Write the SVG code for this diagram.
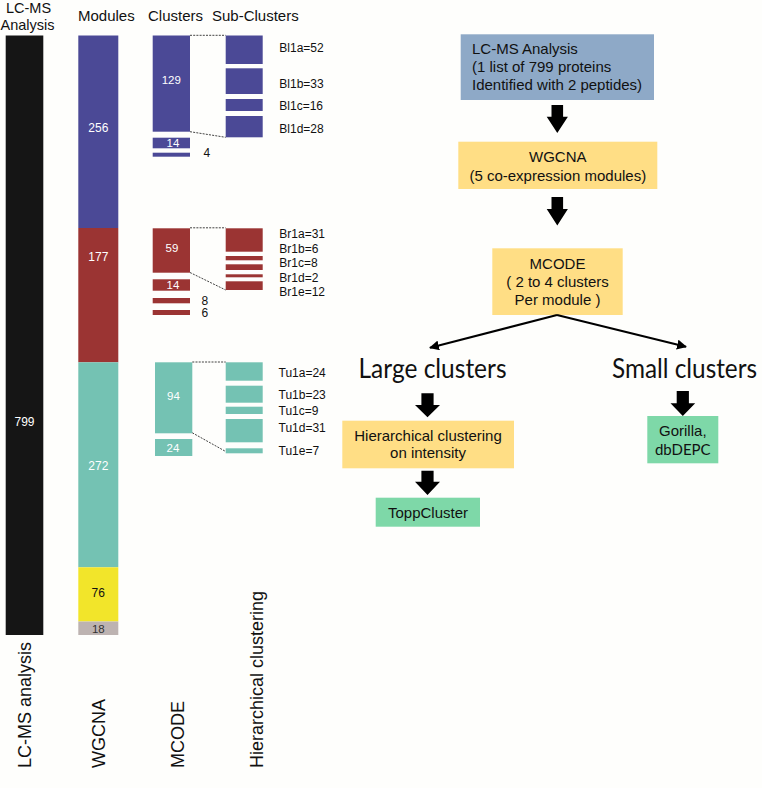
<svg xmlns="http://www.w3.org/2000/svg" width="762" height="788" viewBox="0 0 762 788">
<defs>
<style>
.t{font-family:"Liberation Sans",Arial,sans-serif;fill:#111}
.h{font-size:15px}
.lab{font-size:12px}
.num{font-size:11.5px;fill:#fff;text-anchor:middle}
.mid{text-anchor:middle}
.rot{font-size:18px}
.big{font-family:Lato,"Open Sans",sans-serif;font-size:27px;fill:#111;text-anchor:middle}
.bl{fill:#4B4996}
.rd{fill:#9B3433}
.tl{fill:#74C2B3}
.dash{stroke:#111;stroke-width:0.8;stroke-dasharray:2,1.2;fill:none}
.blk{fill:#000}
.thin{stroke:#000;stroke-width:2;fill:none;marker-end:url(#ah)}
</style>
<marker id="ah" viewBox="0 0 10 10" refX="9" refY="5" markerWidth="5" markerHeight="5" orient="auto" markerUnits="strokeWidth">
<path d="M0,0 L10,5 L0,10 z" fill="#000"/>
</marker>
</defs>
<rect x="0" y="0" width="762" height="788" fill="#FEFEFC"/>

<g id="headers">
<text class="t mid" x="28.5" y="13.2" style="font-size:14.5px">LC-MS</text>
<text class="t mid" x="27.5" y="29.5" style="font-size:14.5px">Analysis</text>
<text class="t h" x="78" y="20.5">Modules</text>
<text class="t h" x="148" y="20.5">Clusters</text>
<text class="t h" x="212" y="20.5">Sub-Clusters</text>
</g>

<g id="lcms-bar">
<rect x="5.7" y="35.5" width="37.6" height="599.5" fill="#151515"/>
<text class="t num" x="24.5" y="426" style="font-size:12px">799</text>
</g>

<g id="modules">
<rect x="78.3" y="35.5" width="40" height="192.5" class="bl"/>
<rect x="78.3" y="228" width="40" height="134.3" class="rd"/>
<rect x="78.3" y="362.3" width="40" height="205" class="tl"/>
<rect x="78.3" y="567.3" width="40" height="54.2" fill="#F2E52A"/>
<rect x="78.3" y="621.5" width="40" height="13.5" fill="#BDB3B1"/>
<text class="t num" x="98.3" y="132" style="font-size:12px">256</text>
<text class="t num" x="98.3" y="261" style="font-size:12px">177</text>
<text class="t num" x="98.3" y="470" style="font-size:12px">272</text>
<text class="t mid" x="98.3" y="597" style="font-size:12px">76</text>
<text class="t mid" x="98.3" y="632.5" style="font-size:11.5px;fill:#333">18</text>
</g>

<g id="clusters-blue">
<rect x="152.7" y="35.5" width="37.3" height="96.2" class="bl"/>
<rect x="152.7" y="137.7" width="37.3" height="10.6" class="bl"/>
<rect x="152.7" y="152.7" width="37.3" height="4" class="bl"/>
<text class="t num" x="171.3" y="84">129</text>
<text class="t num" x="173" y="147.3">14</text>
<text class="t" x="203.5" y="157" style="font-size:12px">4</text>
</g>

<g id="subclusters-blue">
<rect x="225.7" y="35.5" width="37" height="28.5" class="bl"/>
<rect x="225.7" y="68.3" width="37" height="25.7" class="bl"/>
<rect x="225.7" y="99" width="37" height="12" class="bl"/>
<rect x="225.7" y="116" width="37" height="21.3" class="bl"/>
<text class="t lab" x="279.3" y="51.5">Bl1a=52</text>
<text class="t lab" x="279.3" y="87.5">Bl1b=33</text>
<text class="t lab" x="279.3" y="110.3">Bl1c=16</text>
<text class="t lab" x="279.3" y="132.5">Bl1d=28</text>
</g>

<g id="clusters-red">
<rect x="152.7" y="228.3" width="37.3" height="44.4" class="rd"/>
<rect x="152.7" y="279.3" width="37.3" height="11.4" class="rd"/>
<rect x="152.7" y="298" width="37.3" height="5.3" class="rd"/>
<rect x="152.7" y="310" width="37.3" height="5" class="rd"/>
<text class="t num" x="172" y="251.5">59</text>
<text class="t num" x="173" y="289">14</text>
<text class="t" x="201.5" y="304.5" style="font-size:12px">8</text>
<text class="t" x="201.5" y="317" style="font-size:12px">6</text>
</g>

<g id="subclusters-red">
<rect x="225.7" y="228.3" width="37" height="23.4" class="rd"/>
<rect x="225.7" y="256" width="37" height="4.3" class="rd"/>
<rect x="225.7" y="264.3" width="37" height="5.7" class="rd"/>
<rect x="225.7" y="274.3" width="37" height="3" class="rd"/>
<rect x="225.7" y="281.3" width="37" height="8.7" class="rd"/>
<text class="t lab" x="279.3" y="237.5">Br1a=31</text>
<text class="t lab" x="279.3" y="252.5">Br1b=6</text>
<text class="t lab" x="279.3" y="267">Br1c=8</text>
<text class="t lab" x="279.3" y="281.5">Br1d=2</text>
<text class="t lab" x="279.3" y="296">Br1e=12</text>
</g>

<g id="clusters-teal">
<rect x="155" y="362.3" width="37.3" height="71" class="tl"/>
<rect x="155" y="439" width="37.3" height="17" class="tl"/>
<text class="t num" x="173.5" y="400">94</text>
<text class="t num" x="173" y="451.5">24</text>
</g>

<g id="subclusters-teal">
<rect x="225.7" y="362.3" width="37" height="18.4" class="tl"/>
<rect x="225.7" y="385.7" width="37" height="17" class="tl"/>
<rect x="225.7" y="406.7" width="37" height="7.3" class="tl"/>
<rect x="225.7" y="419" width="37" height="23.3" class="tl"/>
<rect x="225.7" y="448.3" width="37" height="5" class="tl"/>
<text class="t lab" x="278.5" y="376.5">Tu1a=24</text>
<text class="t lab" x="278.5" y="398.5">Tu1b=23</text>
<text class="t lab" x="278.5" y="415">Tu1c=9</text>
<text class="t lab" x="278.5" y="432">Tu1d=31</text>
<text class="t lab" x="278.5" y="455">Tu1e=7</text>
</g>

<g id="axis-labels">
<text class="t rot" transform="translate(30.5,768) rotate(-90)">LC-MS analysis</text>
<text class="t rot" transform="translate(105,768) rotate(-90)">WGCNA</text>
<text class="t rot" transform="translate(183.5,768) rotate(-90)">MCODE</text>
<text class="t rot" transform="translate(262.5,768) rotate(-90)">Hierarchical clustering</text>
</g>

<g id="box-lcms">
<rect x="460.7" y="34.3" width="193.3" height="65.7" fill="#8EA9C7"/>
<text class="t h" x="472" y="53.5">LC-MS Analysis</text>
<text class="t h" x="472" y="71.5">(1 list of 799 proteins</text>
<text class="t h" x="472" y="89.5">Identified with 2 peptides)</text>
</g>

<g id="box-wgcna">
<rect x="458.3" y="141.7" width="199" height="47.3" fill="#FFDE85"/>
<text class="t h mid" x="557.8" y="162">WGCNA</text>
<text class="t h mid" x="557.8" y="181">(5 co-expression modules)</text>
</g>

<g id="box-mcode">
<rect x="492.3" y="248.3" width="130.4" height="66.7" fill="#FFDE85"/>
<text class="t h mid" x="557.5" y="268.5">MCODE</text>
<text class="t h mid" x="557.5" y="287">( 2 to 4 clusters</text>
<text class="t h mid" x="557.5" y="305">Per module )</text>
</g>

<g id="label-large">
<text class="big" x="432.5" y="378" textLength="148" lengthAdjust="spacingAndGlyphs">Large clusters</text>
</g>
<g id="label-small">
<text class="big" x="757" y="378" style="text-anchor:end" textLength="145" lengthAdjust="spacingAndGlyphs">Small clusters</text>
</g>

<g id="box-hier">
<rect x="342.3" y="420.7" width="171.7" height="47.6" fill="#FFDE85"/>
<text class="t h mid" x="428" y="441">Hierarchical clustering</text>
<text class="t h mid" x="428" y="458">on intensity</text>
</g>

<g id="box-topp">
<rect x="375.7" y="497.7" width="104.3" height="29" fill="#7ED8A8"/>
<text class="t h mid" x="428" y="517.5">ToppCluster</text>
</g>

<g id="box-gorilla">
<rect x="647.3" y="416" width="71" height="47.3" fill="#7ED8A8"/>
<text class="t h mid" x="682.8" y="436">Gorilla,</text>
<text class="mid" x="682.8" y="454.5" style="font-family:Lato,'Open Sans',sans-serif;font-size:15px;fill:#111">dbDEPC</text>
</g>

<g id="connectors">
<line class="dash" x1="190" y1="35.3" x2="225.7" y2="35.3"/>
<line class="dash" x1="190" y1="131.7" x2="225.7" y2="137.3"/>
<line class="dash" x1="190" y1="227.8" x2="225.7" y2="227.8"/>
<line class="dash" x1="190" y1="272.5" x2="225.7" y2="290"/>
<line class="dash" x1="192.3" y1="362" x2="225.7" y2="362"/>
<line class="dash" x1="192.3" y1="432.8" x2="225.7" y2="451.5"/>
<polygon class="blk" points="551.5,105 563.1,105 563.1,116.7 567.9,116.7 557.3,133 546.7,116.7 551.5,116.7"/>
<polygon class="blk" points="551.5,197 563.1,197 563.1,209 567.9,209 557.3,225.5 546.7,209 551.5,209"/>
<polygon class="blk" points="421.4,393.3 433.6,393.3 433.6,405 440,405 427.5,417.3 415,405 421.4,405"/>
<polygon class="blk" points="421.4,470.7 433.6,470.7 433.6,481.7 440,481.7 427.5,495 415,481.7 421.4,481.7"/>
<polygon class="blk" points="676.7,391 688.9,391 688.9,403.3 695.2,403.3 682.8,416 670.5,403.3 676.7,403.3"/>
<line class="thin" x1="557" y1="315" x2="430" y2="347.7"/>
<line class="thin" x1="557" y1="315" x2="686" y2="346.7"/>
</g>
</svg>
